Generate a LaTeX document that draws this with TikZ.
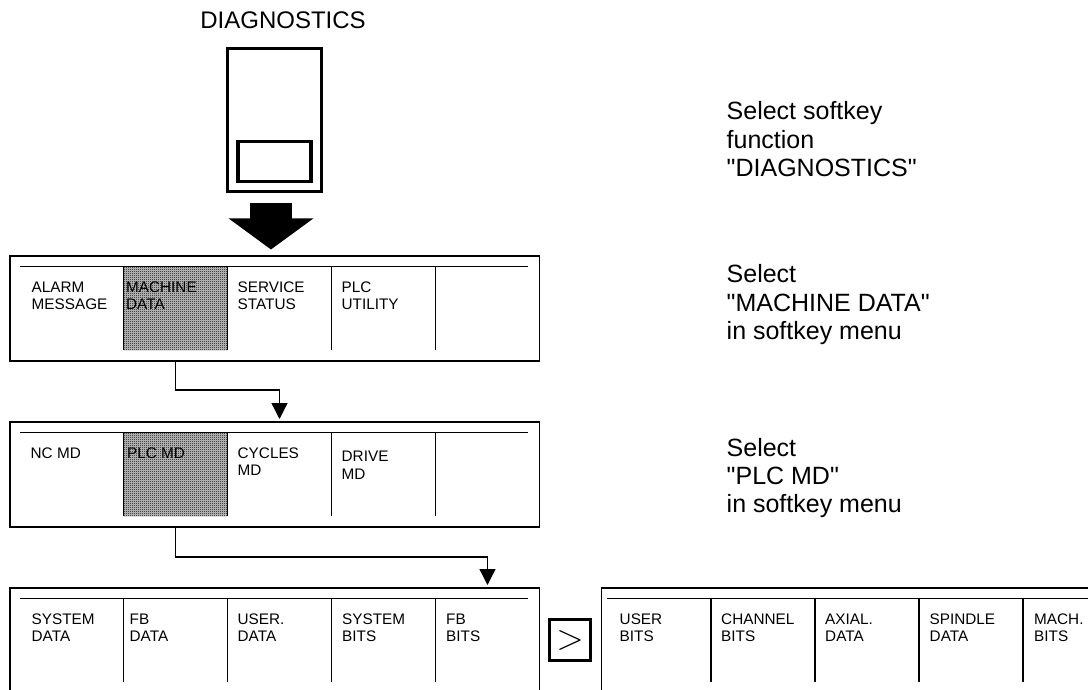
\documentclass[tikz,border=0pt]{standalone}
\usepackage{fontspec}
\setmainfont{Liberation Sans}[Ligatures=TeXOff]
\usetikzlibrary{positioning,arrows.meta,patterns}

% halftone screen of the pressed softkey
\pgfdeclarepatternformonly{halftone}{\pgfpointorigin}{\pgfqpoint{2pt}{2pt}}{\pgfqpoint{2pt}{2pt}}{%
  \pgfpathrectangle{\pgfpointorigin}{\pgfqpoint{1pt}{1pt}}%
  \pgfpathrectangle{\pgfqpoint{1pt}{1pt}}{\pgfqpoint{1pt}{1pt}}%
  \pgfusepath{fill}}

\newcommand\keyfont{\fontsize{15.3pt}{17.4pt}\selectfont}
\newcommand\notefont{\fontsize{25pt}{28.3pt}\selectfont}

\tikzset{
  menubox/.style={draw, line width=1.3pt, anchor=north west, inner sep=0pt, outer sep=0pt,
    minimum width=529.5pt},
  menucell/.style={anchor=north west, inner sep=0pt, outer sep=0pt,
    minimum width=104pt, minimum height=83.5pt},
  pressed/.style={fill=black!22, postaction={pattern=halftone}},
  keytext/.style={anchor=north west, inner sep=0pt, align=left, font=\keyfont},
  note/.style={anchor=north west, inner sep=0pt, align=left, font=\notefont},
  divider/.style={line width=1.3pt},
  flow/.style={line width=1.3pt, -{Triangle[width=16pt,length=16pt]}, shorten >=3pt},
  hardkey/.style={draw, line width=3.4pt, inner sep=0pt},
  bigarrow/.style={line width=42pt, -{Triangle[width=83pt,length=31pt]}}
}

\begin{document}
\begin{tikzpicture}[x=1pt, y=-1pt]

\useasboundingbox (0,0) rectangle (1088,690);
\clip (0,0) rectangle (1088,690);

%%%%%%%%%%%%%%%%%%%%%%%%%%%%%%%%%%%%%%%%%%%%%%%%%%%%%%%%%%
% SOFTKEY
%%%%%%%%%%%%%%%%%%%%%%%%%%%%%%%%%%%%%%%%%%%%%%%%%%%%%%%%%%

\node[font=\fontsize{24pt}{28pt}\selectfont, inner sep=0pt] (title) at (283,20) {DIAGNOSTICS};

\node[
hardkey,
minimum width=93.7pt,
minimum height=142.7pt
](softkey)
at (274.5,120) {};

\node[
hardkey,
minimum width=72.7pt,
minimum height=39.7pt
](keywin)
at ([yshift=31.5pt]softkey.south) {};

\coordinate[xshift=-3.5pt] (stem) at (softkey.south);

%%%%%%%%%%%%%%%%%%%%%%%%%%%%%%%%%%%%%%%%%%%%%%%%%%%%%%%%%%
% MENU 1
%%%%%%%%%%%%%%%%%%%%%%%%%%%%%%%%%%%%%%%%%%%%%%%%%%%%%%%%%%

\node[menubox, minimum height=105pt] (menuA) at (10,256) {};

\node[menucell] (cellA1) at ([xshift=9.5pt,yshift=-10.5pt]menuA.north west) {};
\node[menucell, pressed, right=0pt of cellA1] (cellA2) {};
\node[menucell, right=0pt of cellA2] (cellA3) {};
\node[menucell, right=0pt of cellA3] (cellA4) {};
\node[menucell, right=0pt of cellA4] (cellA5) {};

\draw[divider] (cellA1.north west) -- ([xshift=-11.5pt]cellA5.north east);
\draw[divider] (cellA1.north east) -- (cellA1.south east)
  (cellA2.north east) -- (cellA2.south east)
  (cellA3.north east) -- (cellA3.south east)
  (cellA4.north east) -- (cellA4.south east);

\node[keytext] (alarm) at ([xshift=12pt,yshift=-15pt]cellA1.north west) {ALARM\\MESSAGE};
\node[keytext] (machdata) at ([xshift=2.5pt,yshift=-15pt]cellA2.north west) {MACHINE\\DATA};
\node[keytext] (service) at ([xshift=10pt,yshift=-15pt]cellA3.north west) {SERVICE\\STATUS};
\node[keytext] (plcutil) at ([xshift=10pt,yshift=-15pt]cellA4.north west) {PLC\\UTILITY};

%%%%%%%%%%%%%%%%%%%%%%%%%%%%%%%%%%%%%%%%%%%%%%%%%%%%%%%%%%
% MENU 2
%%%%%%%%%%%%%%%%%%%%%%%%%%%%%%%%%%%%%%%%%%%%%%%%%%%%%%%%%%

\node[menubox, minimum height=105pt] (menuB) at (10,422) {};

\node[menucell] (cellB1) at ([xshift=9.5pt,yshift=-10.5pt]menuB.north west) {};
\node[menucell, pressed, right=0pt of cellB1] (cellB2) {};
\node[menucell, right=0pt of cellB2] (cellB3) {};
\node[menucell, right=0pt of cellB3] (cellB4) {};
\node[menucell, right=0pt of cellB4] (cellB5) {};

\draw[divider] (cellB1.north west) -- ([xshift=-11.5pt]cellB5.north east);
\draw[divider] (cellB1.north east) -- (cellB1.south east)
  (cellB2.north east) -- (cellB2.south east)
  (cellB3.north east) -- (cellB3.south east)
  (cellB4.north east) -- (cellB4.south east);

\node[keytext] (ncmd) at ([xshift=11pt,yshift=-15pt]cellB1.north west) {NC MD};
\node[keytext] (plcmd) at ([xshift=3.5pt,yshift=-15pt]cellB2.north west) {PLC MD};
\node[keytext] (cyclesmd) at ([xshift=10pt,yshift=-15pt]cellB3.north west) {CYCLES\\MD};
\node[keytext] (drivemd) at ([xshift=10pt,yshift=-18.5pt]cellB4.north west) {DRIVE\\MD};

%%%%%%%%%%%%%%%%%%%%%%%%%%%%%%%%%%%%%%%%%%%%%%%%%%%%%%%%%%
% MENU 3 AND 4
%%%%%%%%%%%%%%%%%%%%%%%%%%%%%%%%%%%%%%%%%%%%%%%%%%%%%%%%%%

\node[menubox, minimum height=130pt] (menuC) at (10,588) {};

\node[menucell] (cellC1) at ([xshift=9.5pt,yshift=-10.5pt]menuC.north west) {};
\node[menucell, right=0pt of cellC1] (cellC2) {};
\node[menucell, right=0pt of cellC2] (cellC3) {};
\node[menucell, right=0pt of cellC3] (cellC4) {};
\node[menucell, right=0pt of cellC4] (cellC5) {};

\draw[divider] (cellC1.north west) -- ([xshift=-11.5pt]cellC5.north east);
\draw[divider] (cellC1.north east) -- (cellC1.south east)
  (cellC2.north east) -- (cellC2.south east)
  (cellC3.north east) -- (cellC3.south east)
  (cellC4.north east) -- (cellC4.south east);

\node[keytext] (sysdata) at ([xshift=12pt,yshift=-15pt]cellC1.north west) {SYSTEM\\DATA};
\node[keytext] (fbdata) at ([xshift=6pt,yshift=-15pt]cellC2.north west) {FB\\DATA};
\node[keytext] (userdata) at ([xshift=10pt,yshift=-15pt]cellC3.north west) {USER.\\DATA};
\node[keytext] (sysbits) at ([xshift=10.5pt,yshift=-15pt]cellC4.north west) {SYSTEM\\BITS};
\node[keytext] (fbbits) at ([xshift=10.5pt,yshift=-15pt]cellC5.north west) {FB\\BITS};

\node[
hardkey,
minimum size=41pt,
font=\fontsize{24pt}{24pt}\selectfont
](nextkey)
at (570,640) {\scalebox{1.45}{$>$}};

\node[menubox, minimum width=560pt, minimum height=130pt] (menuD) at (601.5,588) {};

\node[menucell] (cellD1) at ([xshift=5.5pt,yshift=-10.5pt]menuD.north west) {};
\node[menucell, right=0pt of cellD1] (cellD2) {};
\node[menucell, right=0pt of cellD2] (cellD3) {};
\node[menucell, right=0pt of cellD3] (cellD4) {};
\node[menucell, right=0pt of cellD4] (cellD5) {};

\draw[divider] (cellD1.north west) -- (cellD5.north east);
\draw[divider] (cellD1.north east) -- (cellD1.south east)
  (cellD2.north east) -- (cellD2.south east)
  (cellD3.north east) -- (cellD3.south east)
  (cellD4.north east) -- (cellD4.south east);

\node[keytext] (userbits) at ([xshift=12.5pt,yshift=-15pt]cellD1.north west) {USER\\BITS};
\node[keytext] (chanbits) at ([xshift=10pt,yshift=-15pt]cellD2.north west) {CHANNEL\\BITS};
\node[keytext] (axialdata) at ([xshift=10pt,yshift=-15pt]cellD3.north west) {AXIAL.\\DATA};
\node[keytext] (spindata) at ([xshift=10.5pt,yshift=-15pt]cellD4.north west) {SPINDLE\\DATA};
\node[keytext] (machbits) at ([xshift=11pt,yshift=-15pt]cellD5.north west) {MACH.\\BITS};

%%%%%%%%%%%%%%%%%%%%%%%%%%%%%%%%%%%%%%%%%%%%%%%%%%%%%%%%%%
% NOTES
%%%%%%%%%%%%%%%%%%%%%%%%%%%%%%%%%%%%%%%%%%%%%%%%%%%%%%%%%%

\node[note] (noteA) at (726.5,101.5) {Select softkey\\function\\"DIAGNOSTICS"};
\node[note] (noteB) at (726.5,264.5) {Select\\"MACHINE DATA"\\in softkey menu};
\node[note] (noteC) at (726.5,437.8) {Select\\"PLC MD"\\in softkey menu};

%%%%%%%%%%%%%%%%%%%%%%%%%%%%%%%%%%%%%%%%%%%%%%%%%%%%%%%%%%
% CONNECTIONS
%%%%%%%%%%%%%%%%%%%%%%%%%%%%%%%%%%%%%%%%%%%%%%%%%%%%%%%%%%

\draw[bigarrow, shorten <=10pt, shorten >=6.5pt] (stem) -- (stem |- menuA.north);

\draw[flow] (cellA2.south |- menuA.south) -- ++(0,29) -| (cellB3.north |- menuB.north);
\draw[flow] (cellB2.south |- menuB.south) -- ++(0,30) -| (cellC5.north |- menuC.north);

\end{tikzpicture}
\end{document}
